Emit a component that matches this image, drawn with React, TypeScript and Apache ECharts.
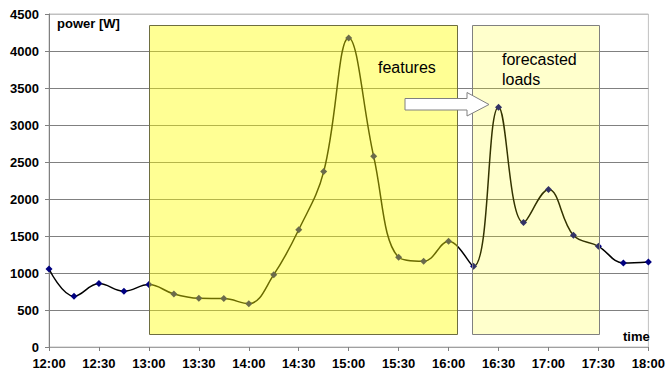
import React, { useEffect, useRef } from "react";
import * as echarts from "echarts";

// Measured load, one reading every 15 minutes
const times = [
  "12:00", "12:15", "12:30", "12:45", "13:00", "13:15", "13:30", "13:45",
  "14:00", "14:15", "14:30", "14:45", "15:00", "15:15", "15:30", "15:45",
  "16:00", "16:15", "16:30", "16:45", "17:00", "17:15", "17:30", "17:45", "18:00",
];
const power = [
  1054, 685, 857, 753, 843, 716, 658, 654,
  586, 978, 1586, 2370, 4176, 2577, 1212, 1158,
  1428, 1090, 3239, 1681, 2127, 1509, 1361, 1135, 1149,
];

// Axis tick labels
const timeTicks = ["12:00", "12:30", "13:00", "13:30", "14:00", "14:30", "15:00", "15:30", "16:00", "16:30", "17:00", "17:30", "18:00"];

// Highlighted windows: [start, end, bottom W, top W]
const featureWindow = ["13:00", "16:05", 180, 4350];
const forecastWindow = ["16:14", "17:30", 180, 4350];

const toMin = (t: string) => {
  const [h, m] = t.split(":").map(Number);
  return (h - 12) * 60 + m;
};

export default function App() {
  const ref = useRef<HTMLDivElement>(null);

  useEffect(() => {
    if (!ref.current) return;
    const chart = echarts.init(ref.current, null, { renderer: "svg" });

    const lineData = times.map((t, i) => [toMin(t), power[i]]);
    const windows = [
      [toMin(featureWindow[0] as string), toMin(featureWindow[1] as string), featureWindow[2], featureWindow[3], 0],
      [toMin(forecastWindow[0] as string), toMin(forecastWindow[1] as string), forecastWindow[2], forecastWindow[3], 1],
    ];
    const fills = ["rgba(255,255,0,0.42)", "rgba(255,255,0,0.2)"];
    const strokes = ["#6e6e40", "#808080"];

    const font = "Liberation Sans, Arial, sans-serif";

    chart.setOption({
      animation: false,
      backgroundColor: "#ffffff",
      grid: {
        left: 49,
        right: 15,
        top: 14,
        bottom: 25,
        show: true,
        borderColor: "#c0c0c0",
        borderWidth: 1,
      },
      xAxis: {
        type: "value",
        min: 0,
        max: 360,
        interval: 30,
        axisLine: { lineStyle: { color: "#a0a0a0" } },
        axisTick: { show: true, length: 4, lineStyle: { color: "#808080" } },
        splitLine: { show: false },
        axisLabel: {
          margin: 10,
          color: "#000",
          fontWeight: "bold",
          fontSize: 13,
          fontFamily: font,
          formatter: (v: number) => timeTicks[Math.round(v / 30)] ?? "",
        },
      },
      yAxis: {
        type: "value",
        min: 0,
        max: 4500,
        interval: 500,
        axisLine: { show: true, lineStyle: { color: "#808080" } },
        axisTick: { show: true, length: 4, lineStyle: { color: "#808080" } },
        splitLine: {
          show: true,
          lineStyle: {
            color: ["#a0a0a0", "#808080", "#808080", "#808080", "#808080", "#808080", "#808080", "#808080", "#808080", "#c0c0c0"],
            width: 1,
          },
        },
        axisLabel: {
          margin: 10,
          color: "#000",
          fontWeight: "bold",
          fontSize: 13,
          fontFamily: font,
          formatter: (v: number) => String(v),
        },
      },
      series: [
        {
          type: "line",
          data: lineData,
          smooth: 0.4,
          z: 2,
          symbol: "diamond",
          symbolSize: 7,
          lineStyle: { color: "#000000", width: 1.5 },
          itemStyle: { color: "#000080" },
        },
        {
          type: "custom",
          z: 3,
          silent: true,
          data: windows,
          renderItem: (params: any, api: any) => {
            const p0 = api.coord([api.value(0), api.value(3)]);
            const p1 = api.coord([api.value(1), api.value(2)]);
            const idx = api.value(4);
            return {
              type: "rect",
              shape: { x: Math.round(p0[0]) + 0.5, y: Math.round(p0[1]) + 0.5, width: Math.round(p1[0] - p0[0]), height: Math.round(p1[1] - p0[1]) },
              style: { fill: fills[idx], stroke: strokes[idx], lineWidth: 1 },
            };
          },
        },
      ],
      graphic: [
        {
          type: "text",
          left: 57,
          top: 17,
          z: 10,
          style: { text: "power [W]", font: `bold 13px ${font}`, fill: "#000" },
        },
        {
          type: "text",
          left: 623,
          top: 330,
          z: 10,
          style: { text: "time", font: `bold 13px ${font}`, fill: "#000" },
        },
        {
          type: "text",
          left: 378,
          top: 59,
          z: 10,
          style: { text: "features", font: `16px ${font}`, fill: "#000" },
        },
        {
          type: "text",
          left: 502,
          top: 49,
          z: 10,
          style: { text: "forecasted\nloads", font: `16px ${font}`, fill: "#000", lineHeight: 20 },
        },
        {
          type: "polygon",
          z: 10,
          shape: {
            points: [
              [405, 98.5],
              [467, 98.5],
              [467, 92.5],
              [489, 104.5],
              [467, 116],
              [467, 110],
              [405, 110],
            ],
          },
          style: { fill: "#ffffff", stroke: "#808080", lineWidth: 1 },
        },
      ],
    });

    return () => chart.dispose();
  }, []);

  return (
    <div
      ref={ref}
      style={{ position: "fixed", left: 0, top: 0, width: 668, height: 372 }}
    />
  );
}
